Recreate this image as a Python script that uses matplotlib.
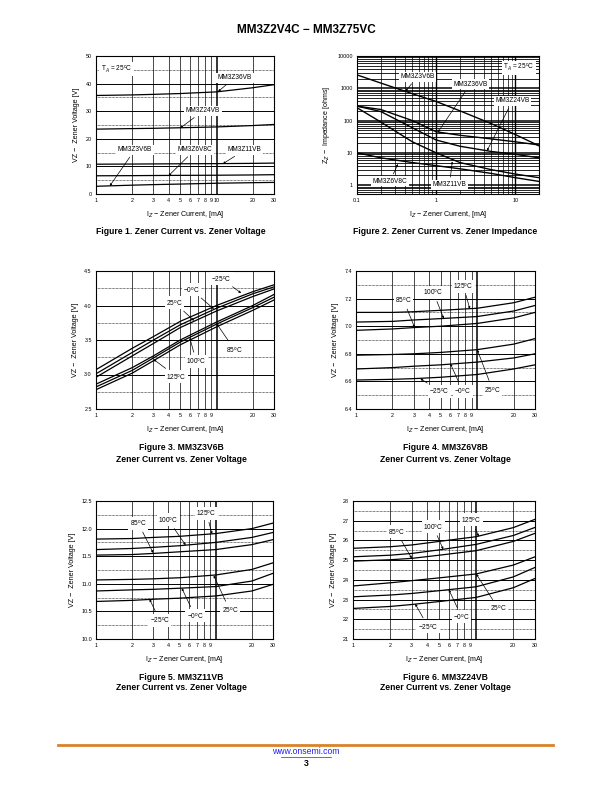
import numpy as np
import matplotlib
matplotlib.use("Agg")
import matplotlib.pyplot as plt

plt.rcParams['font.family'] = ['Liberation Sans', 'DejaVu Sans']

# ---- Figure 1: Vz vs Iz at 25C ----
f1_iz = [1, 2, 3, 5, 10, 20, 30]
f1_3v6b = [2.8, 3.2, 3.4, 3.6, 3.9, 4.1, 4.2]
f1_6v8c = [6.6, 6.65, 6.7, 6.75, 6.8, 6.9, 7.0]
f1_11vb = [10.8, 10.85, 10.9, 10.95, 11.0, 11.1, 11.2]
f1_24vb = [23.5, 23.7, 23.8, 24.0, 24.3, 24.8, 25.2]
f1_36vb = [35.7, 35.9, 36.1, 36.4, 37.0, 38.5, 39.6]

# ---- Figure 2: Zz vs Iz ----
f2_iz = [0.1, 0.2, 0.5, 1, 2, 5, 10, 20]
f2_3v6b = [2600, 1450, 680, 390, 200, 80, 37, 16.5]
f2_36vb = [280, 220, 100, 45, 35, 27, 22, 17.5]
f2_24vb = [280, 190, 60, 25, 16, 11, 9, 7]
f2_11vb = [250, 90, 22, 10, 5, 3, 2.2, 1.7]
f2_6v8c = [10, 7, 5, 4, 3.2, 2.3, 1.7, 1.3]

# ---- Figures 3-6: temperature curves ----
t_iz = [1, 2, 3, 5, 10, 20, 30]
temps = ['-25', '0', '25', '85', '100', '125']

f3_vz = {
    '-25': [3.07, 3.38, 3.55, 3.77, 4.00, 4.20, 4.30],
    '0':   [3.01, 3.32, 3.50, 3.72, 3.96, 4.17, 4.27],
    '25':  [2.96, 3.27, 3.45, 3.68, 3.92, 4.13, 4.24],
    '85':  [2.86, 3.10, 3.27, 3.50, 3.76, 4.00, 4.16],
    '100': [2.82, 3.06, 3.24, 3.47, 3.73, 3.97, 4.12],
    '125': [2.78, 3.02, 3.20, 3.43, 3.69, 3.93, 4.08],
}
f4_vz = {
    '-25': [6.61, 6.615, 6.62, 6.63, 6.65, 6.69, 6.72],
    '0':   [6.69, 6.70, 6.71, 6.72, 6.74, 6.77, 6.80],
    '25':  [6.79, 6.795, 6.80, 6.81, 6.83, 6.87, 6.91],
    '85':  [6.97, 6.98, 6.99, 7.00, 7.02, 7.06, 7.10],
    '100': [7.03, 7.035, 7.045, 7.055, 7.07, 7.11, 7.15],
    '125': [7.10, 7.10, 7.105, 7.115, 7.13, 7.17, 7.21],
}
f5_vz = {
    '-25': [10.68, 10.70, 10.72, 10.74, 10.78, 10.87, 10.99],
    '0':   [10.87, 10.89, 10.90, 10.92, 10.95, 11.05, 11.19],
    '25':  [11.07, 11.08, 11.09, 11.11, 11.16, 11.26, 11.38],
    '85':  [11.52, 11.53, 11.55, 11.58, 11.62, 11.71, 11.80],
    '100': [11.62, 11.64, 11.66, 11.69, 11.75, 11.84, 11.93],
    '125': [11.81, 11.82, 11.84, 11.86, 11.91, 12.00, 12.10],
}
f6_vz = {
    '-25': [22.55, 22.65, 22.75, 22.90, 23.11, 23.60, 24.07],
    '0':   [23.14, 23.23, 23.31, 23.45, 23.65, 24.15, 24.63],
    '25':  [23.69, 23.85, 23.96, 24.10, 24.30, 24.75, 25.17],
    '85':  [24.95, 25.02, 25.09, 25.25, 25.48, 25.95, 26.36],
    '100': [25.17, 25.25, 25.34, 25.52, 25.80, 26.25, 26.66],
    '125': [25.60, 25.68, 25.77, 25.95, 26.19, 26.65, 27.07],
}

W, H = 612, 792
fig = plt.figure(figsize=(6.12, 7.92), dpi=100)


def make_ax(left, right, top, bottom):
    return fig.add_axes([left / W, 1 - bottom / H, (right - left) / W, (bottom - top) / H])


def px_text(x, y, s, **kw):
    fig.text(x / W, 1 - y / H, s, **kw)


TICK_FS = 3.9
LAB_FS = 5.1
ANN_FS = 4.7
LBL_BOX = dict(facecolor='white', edgecolor='none', pad=1.1)


def style_vz_axis(ax, ylo, yhi, major, show10=False):
    ax.set_xscale('log')
    ax.set_xlim(1, 30)
    ax.set_ylim(ylo, yhi)
    xt = [1, 2, 3, 4, 5, 6, 7, 8, 9, 10, 20, 30]
    ax.set_xticks(xt)
    lab = [str(v) for v in xt]
    if not show10:
        lab[9] = ''
    ax.set_xticklabels(lab)
    ax.xaxis.set_minor_locator(matplotlib.ticker.NullLocator())
    for v in [2, 3, 4, 5, 6, 7, 8, 9, 20]:
        ax.axvline(v, color='k', lw=0.5, zorder=1)
    ax.axvline(10, color='k', lw=1.1, zorder=1)
    yt = np.arange(ylo, yhi + major / 2, major)
    ax.set_yticks(yt)
    for v in yt[1:-1]:
        ax.axhline(v, color='k', lw=0.7, zorder=1)
    for v in yt[:-1] + major / 2:
        ax.axhline(v, color='k', lw=0.5, ls=(0, (1, 1)), zorder=1)
    ax.tick_params(length=0, labelsize=TICK_FS, pad=3)
    for s in ax.spines.values():
        s.set_linewidth(0.8)


def arrow_label(ax, text, xy, xytext):
    ax.annotate(text, xy=xy, xytext=xytext, fontsize=ANN_FS, ha='center', va='center',
                bbox=LBL_BOX, zorder=5,
                arrowprops=dict(arrowstyle='-|>', lw=0.5, color='k', mutation_scale=3,
                                shrinkA=2, shrinkB=0))


# ---------------- Figure 1 ----------------
ax1 = make_ax(96, 274, 56, 194)
style_vz_axis(ax1, 0, 50, 10, show10=True)
ax1.set_yticklabels(['0', '10', '20', '30', '40', '50'])
for ser in [f1_3v6b, f1_6v8c, f1_11vb, f1_24vb, f1_36vb]:
    ax1.plot(f1_iz, ser, color='k', lw=0.9, zorder=3)
ax1.text(1.48, 45.3, r'T$_A$ = 25$^\mathregular{o}$C', fontsize=ANN_FS, ha='center', va='center',
         bbox=LBL_BOX, zorder=5)
arrow_label(ax1, 'MM3Z36VB', (10.3, 37.1), (14.2, 42.2))
arrow_label(ax1, 'MM3Z24VB', (5.0, 23.9), (7.75, 30.1))
arrow_label(ax1, 'MM3Z3V6B', (1.3, 2.9), (2.1, 16.0))
arrow_label(ax1, 'MM3Z6V8C', (4.0, 6.6), (6.6, 16.0))
arrow_label(ax1, 'MM3Z11VB', (11.3, 10.95), (17.2, 16.0))
ax1.set_ylabel('VZ −  Zener Voltage [V]', fontsize=LAB_FS, labelpad=4)
ax1.set_xlabel(r'I$_Z$ − Zener Current, [mA]', fontsize=LAB_FS, labelpad=4)

# ---------------- Figure 2 ----------------
ax2 = make_ax(357, 539, 56, 194)
ax2.set_xscale('log')
ax2.set_yscale('log')
ax2.set_xlim(0.1, 20)
ax2.set_ylim(0.53, 10000)
for dec in [0.1, 1, 10]:
    for m in range(2, 10):
        v = dec * m
        if v < 20:
            ax2.axvline(v, color='k', lw=0.5, zorder=1)
for v in [1, 10]:
    ax2.axvline(v, color='k', lw=1.0, zorder=1)
for dec in [0.1, 1, 10, 100, 1000]:
    for m in range(2, 10):
        v = dec * m
        if v > 0.53:
            ax2.axhline(v, color='k', lw=0.6, zorder=1)
for v in [1, 10, 100, 1000]:
    ax2.axhline(v, color='k', lw=1.1, zorder=1)
ax2.set_xticks([0.1, 1, 10])
ax2.set_xticklabels(['0.1', '1', '10'])
ax2.set_yticks([1, 10, 100, 1000, 10000])
ax2.set_yticklabels(['1', '10', '100', '1000', '10000'])
ax2.xaxis.set_minor_locator(matplotlib.ticker.NullLocator())
ax2.yaxis.set_minor_locator(matplotlib.ticker.NullLocator())
ax2.tick_params(length=0, labelsize=TICK_FS, pad=3)
for ser in [f2_3v6b, f2_36vb, f2_24vb, f2_11vb, f2_6v8c]:
    ax2.plot(f2_iz, ser, color='k', lw=1.0, zorder=3)
ax2.text(11.2, 4360, r'T$_A$ = 25$^\mathregular{o}$C', fontsize=ANN_FS, ha='center', va='center',
         bbox=LBL_BOX, zorder=5)
arrow_label(ax2, 'MM3Z3V6B', (0.41, 800), (0.58, 2290))
arrow_label(ax2, 'MM3Z36VB', (1.05, 43), (2.7, 1330))
arrow_label(ax2, 'MM3Z24VB', (4.4, 11.5), (9.2, 405))
arrow_label(ax2, 'MM3Z6V8C', (0.33, 4.5), (0.26, 1.3))
arrow_label(ax2, 'MM3Z11VB', (1.6, 5.4), (1.48, 1.02))
ax2.set_ylabel(r'Z$_Z$ −  Impedance [ohms]', fontsize=LAB_FS, labelpad=4)
ax2.set_xlabel(r'I$_Z$ − Zener Current, [mA]', fontsize=LAB_FS, labelpad=4)


def temp_fig(ax, data, ylo, yhi, major, fmt, labels):
    style_vz_axis(ax, ylo, yhi, major)
    ax.set_yticklabels([fmt.format(v) for v in np.arange(ylo, yhi + major / 2, major)])
    for t in temps:
        ax.plot(t_iz, data[t], color='k', lw=0.9, zorder=3)
    for txt, xy, xyt in labels:
        arrow_label(ax, txt, xy, xyt)
    ax.set_ylabel('VZ −  Zener Voltage [V]', fontsize=LAB_FS, labelpad=4)
    ax.set_xlabel(r'I$_Z$ − Zener Current, [mA]', fontsize=LAB_FS, labelpad=4)


def deg(t):
    return t + r'$^\mathregular{o}$C'


# ---------------- Figure 3 ----------------
ax3 = make_ax(96, 274, 271, 409)
temp_fig(ax3, f3_vz, 2.5, 4.5, 0.5, '{:.1f}', [
    (deg('−25'), (16, 4.18), (11.0, 4.39)),
    (deg('−0'), (9.5, 3.95), (6.2, 4.23)),
    (deg('25'), (6.5, 3.78), (4.5, 4.04)),
    (deg('85'), (10, 3.74), (14.1, 3.36)),
    (deg('100'), (6, 3.53), (6.8, 3.19)),
    (deg('125'), (3.0, 3.22), (4.66, 2.97)),
])

# ---------------- Figure 4 ----------------
ax4 = make_ax(356, 535, 271, 409)
temp_fig(ax4, f4_vz, 6.4, 7.4, 0.2, '{:.1f}', [
    (deg('85'), (3.05, 6.99), (2.46, 7.19)),
    (deg('100'), (5.3, 7.055), (4.35, 7.245)),
    (deg('125'), (8.7, 7.125), (7.7, 7.29)),
    (deg('−25'), (3.4, 6.62), (4.9, 6.53)),
    (deg('−0'), (6.0, 6.73), (7.6, 6.53)),
    (deg('25'), (10, 6.83), (13.4, 6.54)),
])

# ---------------- Figure 5 ----------------
ax5 = make_ax(96, 273, 501, 639)
temp_fig(ax5, f5_vz, 10.0, 12.5, 0.5, '{:.1f}', [
    (deg('85'), (3.0, 11.56), (2.25, 12.10)),
    (deg('100'), (5.6, 11.70), (4.0, 12.16)),
    (deg('125'), (9.3, 11.90), (8.36, 12.28)),
    (deg('−25'), (2.8, 10.72), (3.4, 10.34)),
    (deg('−0'), (5.2, 10.92), (6.7, 10.42)),
    (deg('25'), (9.6, 11.15), (13.1, 10.52)),
])

# ---------------- Figure 6 ----------------
ax6 = make_ax(353, 535, 501, 639)
temp_fig(ax6, f6_vz, 21, 28, 1, '{:.0f}', [
    (deg('85'), (3.0, 25.09), (2.25, 26.44)),
    (deg('100'), (5.4, 25.55), (4.47, 26.7)),
    (deg('125'), (10.5, 26.2), (9.15, 27.04)),
    (deg('−25'), (3.2, 22.78), (4.07, 21.62)),
    (deg('−0'), (6.0, 23.5), (7.6, 22.13)),
    (deg('25'), (10, 24.3), (15.1, 22.55)),
])

# ---------------- page text ----------------
px_text(306, 30, 'MM3Z2V4C − MM3Z75VC', fontsize=8.5, fontweight='bold', ha='center', va='center')
cap = dict(fontsize=6.2, fontweight='bold', ha='center', va='center')
px_text(181, 231, 'Figure 1. Zener Current vs. Zener Voltage', **cap)
px_text(445, 231, 'Figure 2. Zener Current vs. Zener Impedance', **cap)
px_text(181, 448, 'Figure 3. MM3Z3V6B', **cap)
px_text(181, 460, 'Zener Current vs. Zener Voltage', **cap)
px_text(445, 448, 'Figure 4. MM3Z6V8B', **cap)
px_text(445, 460, 'Zener Current vs. Zener Voltage', **cap)
px_text(181, 677, 'Figure 5. MM3Z11VB', **cap)
px_text(181, 688, 'Zener Current vs. Zener Voltage', **cap)
px_text(445, 677, 'Figure 6. MM3Z24VB', **cap)
px_text(445, 688, 'Zener Current vs. Zener Voltage', **cap)

fig.add_artist(plt.Line2D([58 / W, 553 / W], [1 - 745 / H, 1 - 745 / H], color='#D9822B', lw=2.0))
px_text(306, 752, 'www.onsemi.com', fontsize=6.2, color='#2222EE', ha='center', va='center')
fig.add_artist(plt.Line2D([281 / W, 331 / W], [1 - 756.5 / H, 1 - 756.5 / H], color='#2222EE', lw=0.5))
px_text(306, 763, '3', fontsize=6.2, fontweight='bold', ha='center', va='center')

fig.savefig('out.png', dpi=100)
